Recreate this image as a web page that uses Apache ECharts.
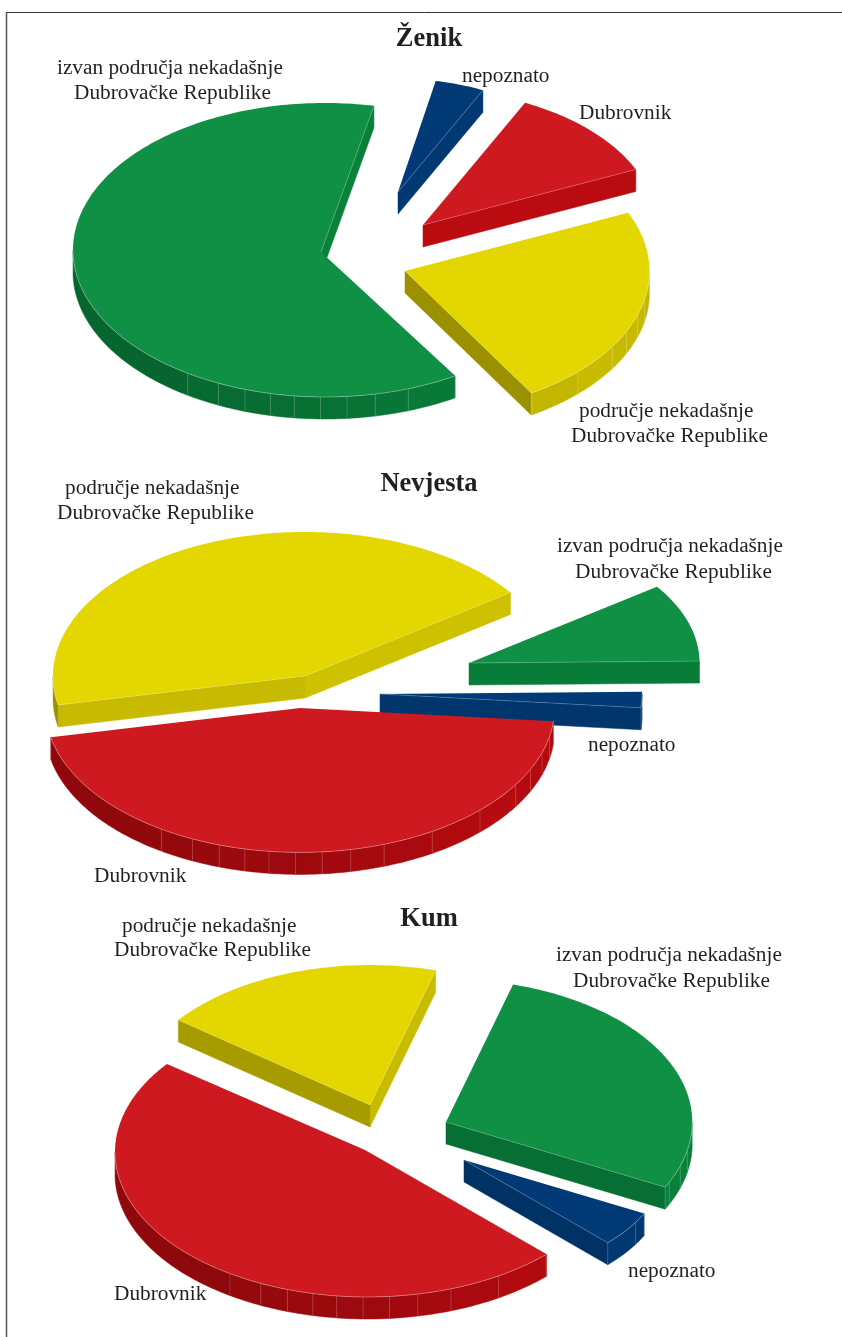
<!DOCTYPE html>
<html><head><meta charset="utf-8">
<style>html,body{margin:0;padding:0;background:#fff}#c{width:842px;height:1337px}</style>
<script src="https://cdn.jsdelivr.net/npm/echarts@6/dist/echarts.min.js"></script>
</head><body><div id="c"></div>
<script>
// ---- data (percent shares; clockwise order) ----
const zenikCategories = ['nepoznato','Dubrovnik','područje','izvan'];
const zenikValues = [4.1, 11.1, 23.05, 61.75];
const nevjestaCategories = ['izvan','nepoznato','Dubrovnik','područje'];
const nevjestaValues = [9.6, 1.7, 45.3, 43.4];
const kumCategories = ['izvan','nepoznato','Dubrovnik','područje'];
const kumValues = [28.15, 4.9, 47.95, 19.0];
const titles = ['Ženik','Nevjesta','Kum'];

// ---- styles and layout ----
const palette = {'izvan':[15,144,68],'Dubrovnik':[207,25,32],'područje':[228,214,0],'nepoznato':[1,58,119]};
const wallBase = {'izvan':[10,148,68],'Dubrovnik':[207,12,18],'područje':[228,214,0],'nepoznato':[1,60,122]};
const wallSoften = {'izvan':1,'Dubrovnik':1,'područje':1,'nepoznato':.6};
const depth = 22;
const pies = [
 {cats:zenikCategories, vals:zenikValues, start:11.2, cx:325, cy:257, rx:252, ry:147,
  slices:{'nepoznato':{o:[73,-65],s:.77},'Dubrovnik':{o:[98,-32],s:.925},'područje':{o:[80,14],s:.97},'izvan':{o:[-4,-5],s:1,e:[4,-2]}}},
 {cats:nevjestaCategories, vals:nevjestaValues, start:54.6, cx:305, cy:676, rx:252, ry:144,
  slices:{'izvan':{o:[164,-13],s:.915},'nepoznato':{o:[75,18],s:1.04},'Dubrovnik':{o:[-5,32],s:1.01,sy:.993},'područje':{o:[0,0],s:1}}},
 {cats:kumCategories, vals:kumValues, start:15.8, cx:365, cy:1150, rx:250, ry:145,
  slices:{'izvan':{o:[81,-28],s:.985},'nepoznato':{o:[99,10],s:.81},'Dubrovnik':{o:[0,0],s:1.01,sy:.99,e:[2.5,2]},'područje':{o:[5,-45],s:.965}}}
];
const facetAngles = [101.5,108,115,122,135,148.7,160.7,168.5,175,181,187,192.5,198.5,205,213];
const outerShade = [[90,.86],[130,.88],[150,.83],[180,.76],[210,.72],[240,.69],[280,.68]];
const radialShade = [[90,.85],[120,.9],[156,.9],[169,.87],[180,.84],[207,.75],[217,.73],[238,.675],[280,.66]];
const textLines = [
 ['izvan područja nekadašnje',57,68],['Dubrovačke Republike',74,93],['nepoznato',462,76],['Dubrovnik',579,113],
 ['područje nekadašnje',579,411],['Dubrovačke Republike',571,436],
 ['područje nekadašnje',65,488],['Dubrovačke Republike',57,513],['izvan područja nekadašnje',557,546],
 ['Dubrovačke Republike',575,572],['nepoznato',588,745],['Dubrovnik',94,876],
 ['područje nekadašnje',122,926],['Dubrovačke Republike',114,950],['izvan područja nekadašnje',556,955],
 ['Dubrovačke Republike',573,981],['nepoznato',628,1271],['Dubrovnik',114,1294]
];
const titlePos = [[429,39],[429,484],[429,919]];

function lerp(tbl,v){
  v=((v%360)+360)%360;
  if(v<=tbl[0][0])return tbl[0][1];
  for(let i=1;i<tbl.length;i++){ if(v<=tbl[i][0]){const a=tbl[i-1],b=tbl[i];return a[1]+(b[1]-a[1])*(v-a[0])/(b[0]-a[0]);} }
  return tbl[tbl.length-1][1];
}
function col(c,f){return 'rgb('+c.map(x=>Math.round(x*f)).join(',')+')';}
const rad=d=>d*Math.PI/180;

function sliceGroup(pie,idx){
  const total=pie.vals.reduce((a,b)=>a+b,0);
  let a=pie.start; for(let i=0;i<idx;i++)a+=pie.vals[i]/total*360;
  const b=a+pie.vals[idx]/total*360;
  const cat=pie.cats[idx], sl=pie.slices[cat], base=palette[cat], wall=wallBase[cat], soft=wallSoften[cat];
  const ax=pie.cx+sl.o[0], ay=pie.cy+sl.o[1], e=sl.e||[0,0], sy=sl.sy||1;
  const pt=(t,dz)=>[ax+e[0]+pie.rx*sl.s*Math.sin(rad(t)), ay+e[1]-pie.ry*sl.s*sy*Math.cos(rad(t))+(dz||0)];
  const arc=(t0,t1,dz)=>{const r=[];const n=Math.max(1,Math.ceil(Math.abs(t1-t0)));for(let i=0;i<=n;i++)r.push(pt(t0+(t1-t0)*i/n,dz));return r;};
  const shade=f=>1-(1-f)*soft;
  const children=[];
  const quad=(p,q,f)=>{const c=col(wall,shade(f));children.push({type:'polygon',silent:true,shape:{points:[p,q,[q[0],q[1]+depth],[p[0],p[1]+depth]]},style:{fill:c,stroke:c,lineWidth:.5}});};
  const apex=[ax,ay];
  const rim=[];
  // radial walls
  if(Math.sin(rad(b))>0.001){const c=pt(b);quad(apex,c,lerp(radialShade,b+90));rim.push([apex,c]);}
  if(Math.sin(rad(a))<-0.001){const c=pt(a);quad(apex,c,lerp(radialShade,a-90));rim.push([apex,c]);}
  // outer wall, split in facets
  let t0=Math.max(a,90),t1=Math.min(b,270);
  if(t1>t0){
    const cuts=[t0,...facetAngles.filter(f=>f>t0&&f<t1),t1];
    for(let i=0;i<cuts.length-1;i++){
      const top=arc(cuts[i],cuts[i+1]),bot=arc(cuts[i+1],cuts[i],depth);
      const c=col(wall,shade(lerp(outerShade,(cuts[i]+cuts[i+1])/2)));
      children.push({type:'polygon',silent:true,shape:{points:top.concat(bot)},style:{fill:c,stroke:c,lineWidth:.5}});
    }
    for(let i=0;i<cuts.length;i++){
      const p=pt(cuts[i]);
      children.push({type:'line',silent:true,shape:{x1:p[0],y1:p[1],x2:p[0],y2:p[1]+depth},style:{stroke:'rgba(255,255,255,.22)',lineWidth:.8}});
    }
  }
  // top face
  children.push({type:'polygon',silent:true,shape:{points:[apex].concat(arc(a,b))},style:{fill:col(base,1)}});
  if(t1>t0)children.push({type:'polyline',silent:true,shape:{points:arc(t0,t1)},style:{stroke:'rgba(255,255,255,.4)',lineWidth:.8,fill:null}});
  rim.forEach(r=>children.push({type:'line',silent:true,shape:{x1:r[0][0],y1:r[0][1],x2:r[1][0],y2:r[1][1]},style:{stroke:'rgba(255,255,255,.3)',lineWidth:.7}}));
  return {type:'group',children};
}

const graphic=[
 {type:'line',silent:true,shape:{x1:6.5,y1:12.5,x2:842,y2:12.5},style:{stroke:'#333',lineWidth:1}},
 {type:'line',silent:true,shape:{x1:6.5,y1:12,x2:6.5,y2:1337},style:{stroke:'#555',lineWidth:1.5}}
];
textLines.forEach(l=>graphic.push({type:'text',silent:true,z:10,x:l[1],y:l[2],style:{text:l[0],fill:'#231f20',font:'21.3px "Liberation Serif"',textAlign:'left',textVerticalAlign:'middle'}}));
titles.forEach((t,i)=>graphic.push({type:'text',silent:true,z:10,x:titlePos[i][0],y:titlePos[i][1],style:{text:t,fill:'#231f20',font:'bold 26.5px "Liberation Serif"',textAlign:'center',textVerticalAlign:'middle'}}));

const chart=echarts.init(document.getElementById('c'),null,{renderer:'canvas',width:842,height:1337});
chart.setOption({
  animation:false,
  backgroundColor:'#fff',
  graphic,
  series:pies.map((pie,pi)=>({
    type:'custom',name:titles[pi],coordinateSystem:'none',silent:true,
    data:pie.vals.map(v=>[v]),
    renderItem:(params)=>sliceGroup(pie,params.dataIndex)
  }))
});
</script></body></html>
